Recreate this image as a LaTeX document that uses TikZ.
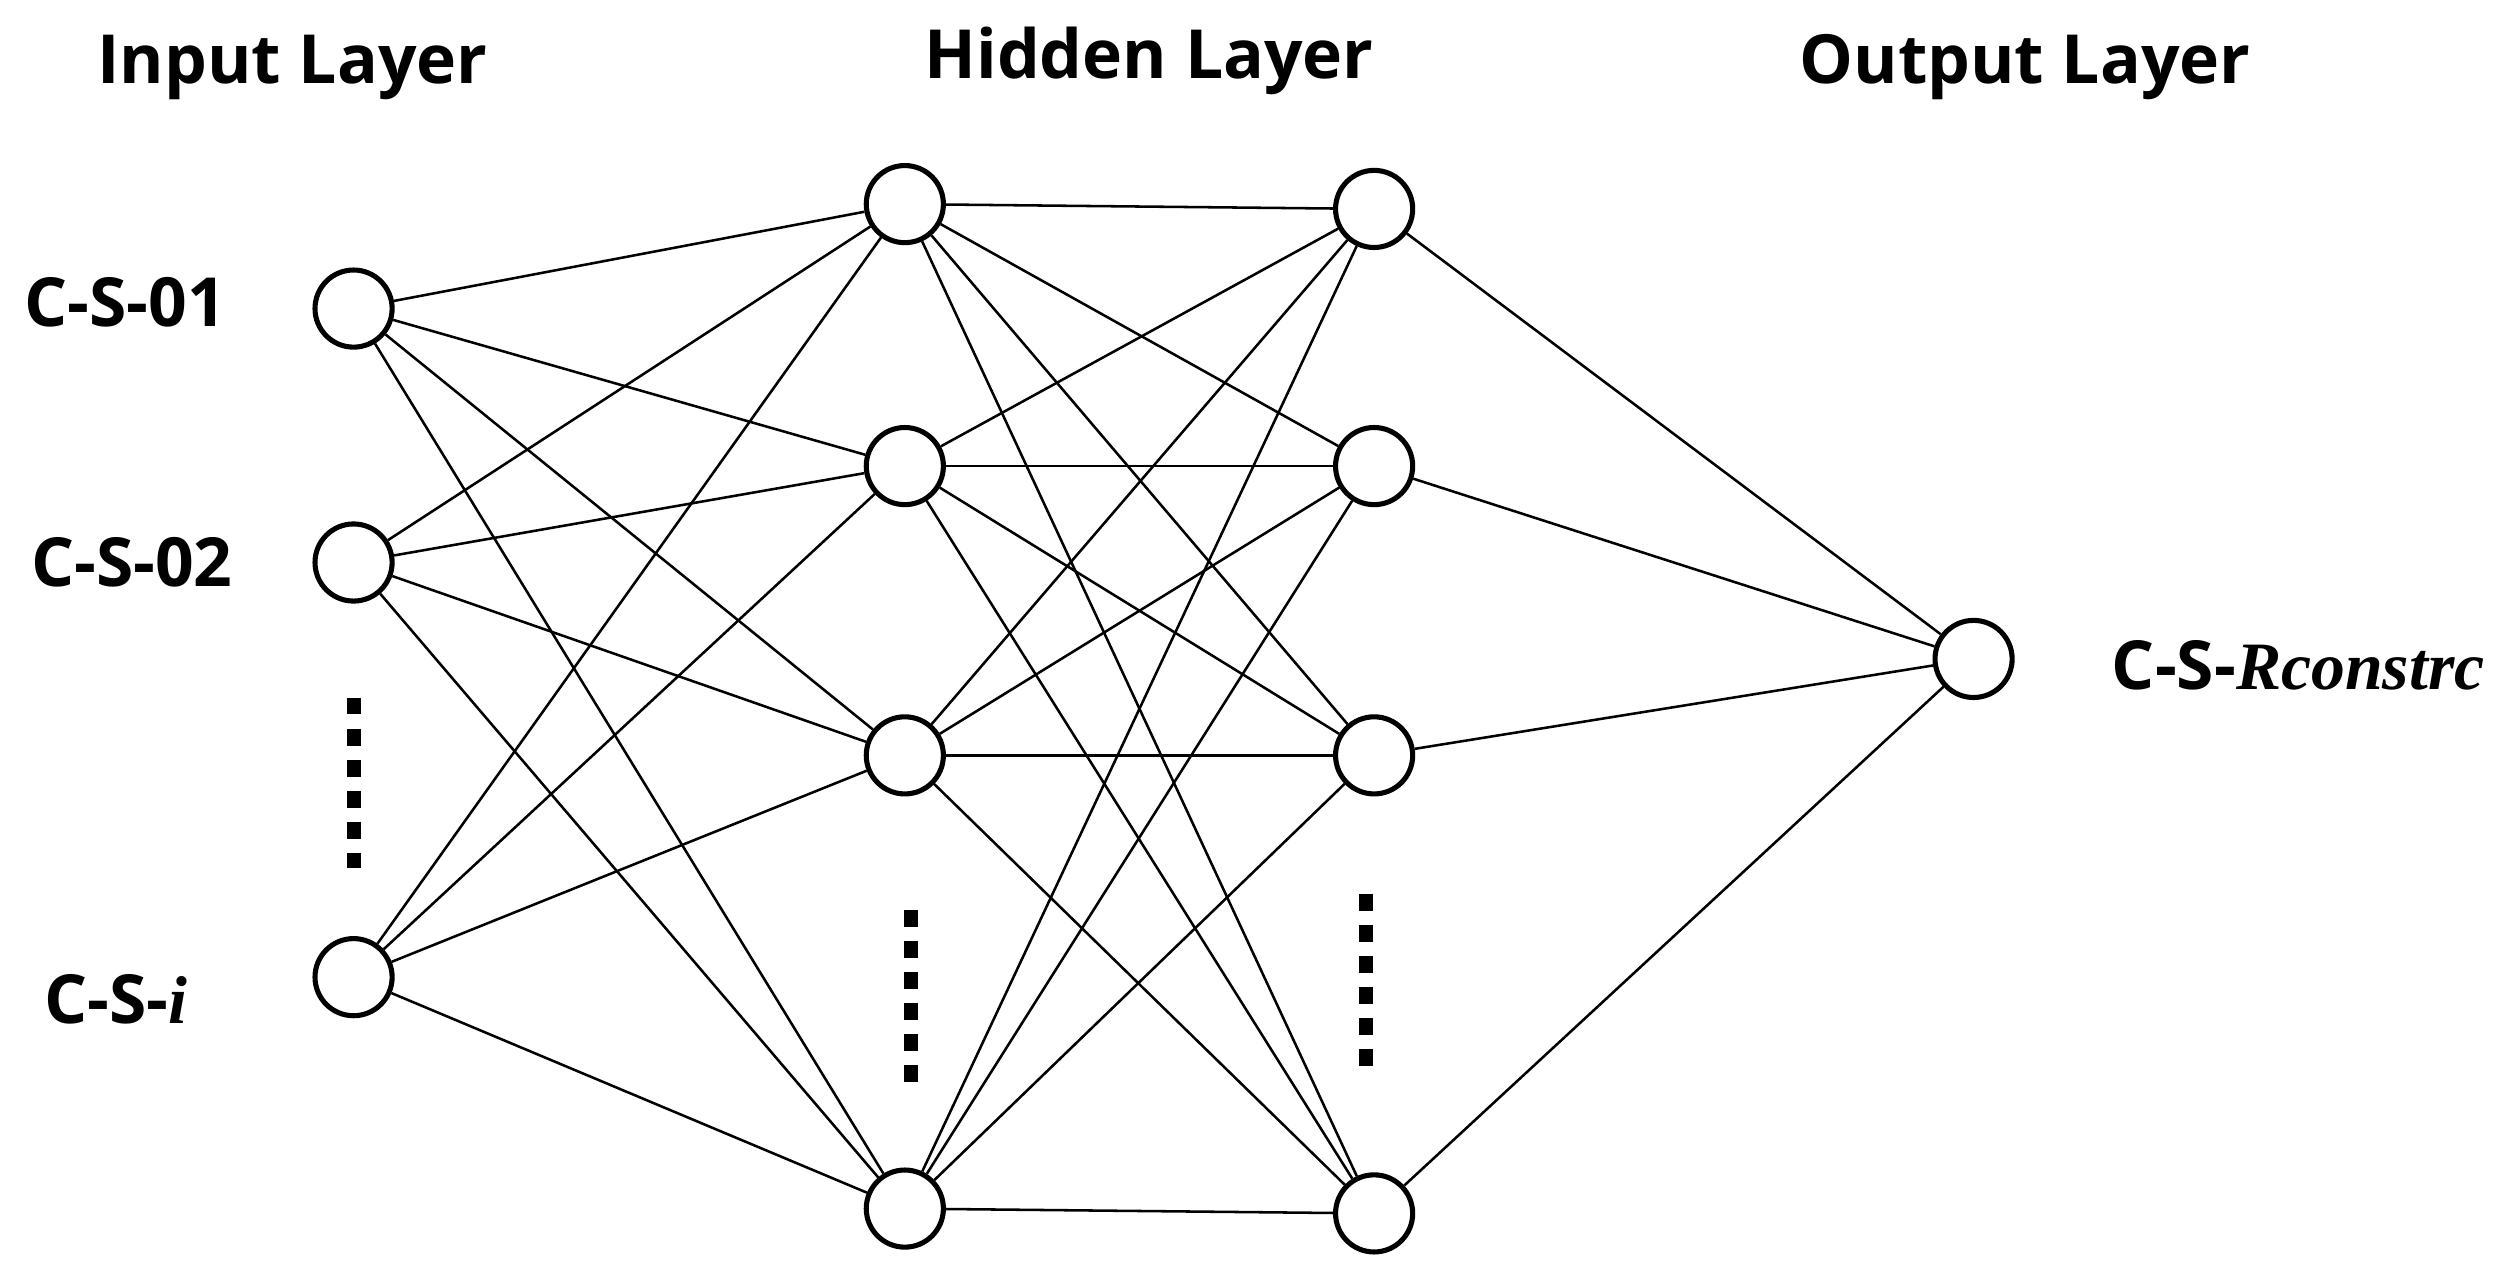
\documentclass[tikz,border=0pt]{standalone}
\usepackage{fontspec}
\setmainfont{Open Sans}
\newfontfamily\tms{Liberation Serif}
\begin{document}
\begin{tikzpicture}[x=0.02cm,y=-0.02cm,
  neuron/.style={circle,draw,line width=1.8pt,minimum size=0.96cm,inner sep=0pt,fill=white},
  edge/.style={line width=0.9pt},
  dots/.style={line width=5pt,dash pattern=on 6pt off 5pt},
  lbl/.style={font=\fontsize{24}{28}\selectfont\bfseries}]
\useasboundingbox (0,0) rectangle (1568,798);
\node[neuron] (i1) at (220,192) {};
\node[neuron] (i2) at (220,350) {};
\node[neuron] (i3) at (220,608) {};
\node[neuron] (a1) at (563,127) {};
\node[neuron] (a2) at (563,290) {};
\node[neuron] (a3) at (563,470) {};
\node[neuron] (a4) at (563,752) {};
\node[neuron] (b1) at (855,130) {};
\node[neuron] (b2) at (855,290) {};
\node[neuron] (b3) at (855,470) {};
\node[neuron] (b4) at (855,755) {};
\node[neuron] (o) at (1228,410) {};
\foreach \s in {i1,i2,i3}{\foreach \t in {a1,a2,a3,a4}{\draw[edge] (\s) -- (\t);}}
\foreach \s in {a1,a2,a3,a4}{\foreach \t in {b1,b2,b3,b4}{\draw[edge] (\s) -- (\t);}}
\foreach \s in {b1,b2,b3,b4}{\draw[edge] (\s) -- (o);}
\coordinate (d1s) at (220,434); \coordinate (d1e) at (220,540);
\coordinate (d2s) at (567,566); \coordinate (d2e) at (567,676);
\coordinate (d3s) at (850,556); \coordinate (d3e) at (850,668);
\draw[dots] (d1s) -- (d1e);
\draw[dots] (d2s) -- (d2e);
\draw[dots] (d3s) -- (d3e);
\node[lbl] (t1) at (182,42) {Input Layer};
\node[lbl] (t2) at (715,38) {Hidden Layer};
\node[lbl] (t3) at (1260,42) {Output Layer};
\node[lbl] (l1) at (78,188) {C-S-01};
\node[lbl] (l2) at (82,350) {C-S-02};
\node[lbl] (l3) at (72,622) {C-S-{\tms\itshape i}};
\node[lbl] (l4) at (1430,414) {C-S-{\tms\itshape Rconstrc}};
\end{tikzpicture}
\end{document}
